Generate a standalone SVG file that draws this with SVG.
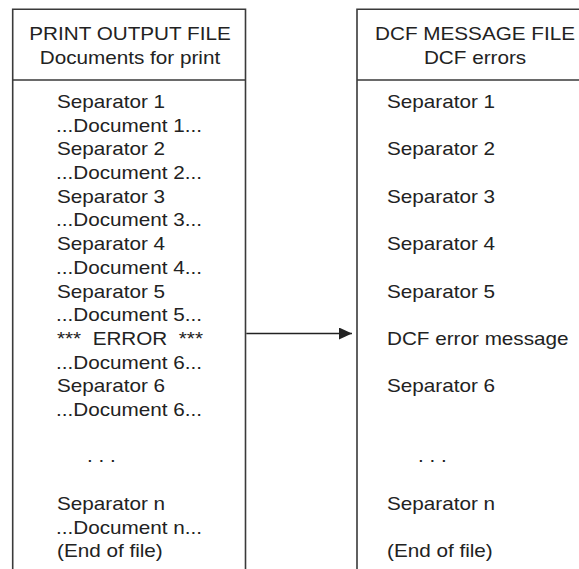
<svg xmlns="http://www.w3.org/2000/svg" width="579" height="569" viewBox="0 0 579 569">
  <style>
    .frame { fill: none; stroke: #3a3a3a; stroke-width: 1.6; }
    .txt { font-family: "Liberation Sans", Arial, sans-serif; font-size: 18px; fill: #222; }
    .mid { text-anchor: middle; }
    .wire { stroke: #222; stroke-width: 1.5; fill: none; }
  </style>
  <defs>
    <marker id="head" viewBox="0 0 13 12" refX="13" refY="6" markerWidth="13" markerHeight="12" markerUnits="userSpaceOnUse" orient="auto">
      <path d="M0,0 L13,6 L0,12 Z" fill="#222"/>
    </marker>
  </defs>

  <rect width="579" height="569" fill="#fff"/>

  <!-- Print output file -->
  <g id="print-output-file">
    <path class="frame" d="M12.7,569 V9.3 H245.5 V569 M12.7,80 H245.5"/>
    <g transform="translate(130,0) scale(1.15,1)">
      <text class="txt mid" x="0" y="40.5">PRINT OUTPUT FILE</text>
      <text class="txt mid" x="0" y="64">Documents for print</text>
    </g>
    <g transform="translate(57,0) scale(1.15,1)" class="txt">
      <text x="0" y="108">Separator 1</text>
      <text x="-0.8" y="131.7">...Document 1...</text>
      <text x="0" y="155.4">Separator 2</text>
      <text x="-0.8" y="179.1">...Document 2...</text>
      <text x="0" y="202.8">Separator 3</text>
      <text x="-0.8" y="226.5">...Document 3...</text>
      <text x="0" y="250.2">Separator 4</text>
      <text x="-0.8" y="273.9">...Document 4...</text>
      <text x="0" y="297.6">Separator 5</text>
      <text x="-0.8" y="321.3">...Document 5...</text>
      <text x="0" y="345" xml:space="preserve">***  ERROR  ***</text>
      <text x="-0.8" y="368.7">...Document 6...</text>
      <text x="0" y="392.4">Separator 6</text>
      <text x="-0.8" y="416.1">...Document 6...</text>
      <text x="26" y="462">. . .</text>
      <text x="0" y="510.5">Separator n</text>
      <text x="-0.8" y="534">...Document n...</text>
      <text x="0" y="557.5">(End of file)</text>
    </g>
  </g>

  <!-- DCF message file -->
  <g id="dcf-message-file">
    <path class="frame" d="M357,569 V9.3 H579 M357,80 H579"/>
    <g transform="translate(475,0) scale(1.15,1)">
      <text class="txt mid" x="0" y="40.5">DCF MESSAGE FILE</text>
      <text class="txt mid" x="0" y="64">DCF errors</text>
    </g>
    <g transform="translate(387,0) scale(1.15,1)" class="txt">
      <text x="0" y="108">Separator 1</text>
      <text x="0" y="155.4">Separator 2</text>
      <text x="0" y="202.8">Separator 3</text>
      <text x="0" y="250.2">Separator 4</text>
      <text x="0" y="297.6">Separator 5</text>
      <text x="0" y="345">DCF error message</text>
      <text x="0" y="392.4">Separator 6</text>
      <text x="27" y="462">. . .</text>
      <text x="0" y="510.5">Separator n</text>
      <text x="0" y="557.5">(End of file)</text>
    </g>
  </g>

  <!-- Connectors -->
  <g id="connectors">
    <line class="wire" x1="246.3" y1="333.5" x2="352" y2="333.5" marker-end="url(#head)"/>
  </g>
</svg>
